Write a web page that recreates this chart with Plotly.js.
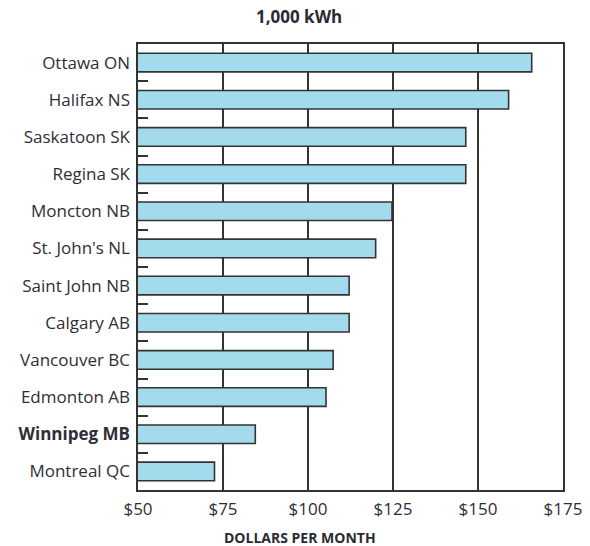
<!DOCTYPE html>
<html>
<head>
<meta charset="utf-8">
<script src="https://cdn.plot.ly/plotly-3.0.1.min.js"></script>
<style>html,body{margin:0;padding:0;background:#fff;}#chart{width:590px;height:546px;}</style>
</head>
<body>
<div id="chart"></div>
<script>
const cities = ["Ottawa ON","Halifax NS","Saskatoon SK","Regina SK","Moncton NB","St. John's NL","Saint John NB","Calgary AB","Vancouver BC","Edmonton AB","Winnipeg MB","Montreal QC"];
const dollarsPerMonth = [165.8,159.0,146.4,146.4,124.7,119.9,112.1,112.1,107.4,105.3,84.5,72.5];
const highlightCity = "Winnipeg MB";
const xTickVals = [50,75,100,125,150,175];
const xTickLabels = ["$50","$75","$100","$125","$150","$175"];
const chartTitle = "1,000 kWh";
const xTitle = "DOLLARS PER MONTH";

const ticktext = cities.map(c => c === highlightCity ? "<b>" + c + "</b>" : c);
const FONT = "'Open Sans', sans-serif";

const trace = {
  type: "bar",
  orientation: "h",
  y: cities,
  x: dollarsPerMonth,
  width: 0.5,
  marker: {color: "#a3dbec", line: {color: "#333333", width: 1.6}},
  hoverinfo: "x+y"
};

const layout = {
  width: 590, height: 546,
  margin: {l: 138, r: 27, t: 44, b: 56},
  paper_bgcolor: "#fff", plot_bgcolor: "#fff",
  showlegend: false,
  font: {family: FONT, color: "#2e2e38", size: 14},
  title: {text: "<b>" + chartTitle + "</b>", x: 0.507, xanchor: "center", y: 0.968, yanchor: "middle",
          font: {size: 17, family: FONT, color: "#2a2a35"}},
  annotations: [{
    text: "<b>" + xTitle + "</b>", xref: "paper", yref: "paper", x: 0.382, y: -0.106,
    xanchor: "center", yanchor: "middle", showarrow: false,
    font: {size: 14, family: FONT, color: "#2a2a35"}
  }],
  xaxis: {
    range: [50, 175], tickvals: xTickVals, ticktext: xTickLabels,
    showgrid: true, gridcolor: "#333", gridwidth: 1.6,
    showline: true, mirror: true, linecolor: "#333", linewidth: 1.6,
    zeroline: false, ticks: "", ticklabelstandoff: 3,
    tickfont: {size: 17, color: "#2e2e38", family: FONT}
  },
  yaxis: {
    type: "category", autorange: "reversed",
    tickvals: cities, ticktext: ticktext,
    tickson: "boundaries", ticks: "inside", ticklen: 10, tickwidth: 2, tickcolor: "#333",
    showgrid: false, showline: true, mirror: true, linecolor: "#333", linewidth: 1.6,
    tickfont: {size: 17, color: "#2e2e38", family: FONT}, ticklabelstandoff: 3
  }
};

Plotly.newPlot("chart", [trace], layout, {displayModeBar: false, staticPlot: true});
</script>
</body>
</html>
